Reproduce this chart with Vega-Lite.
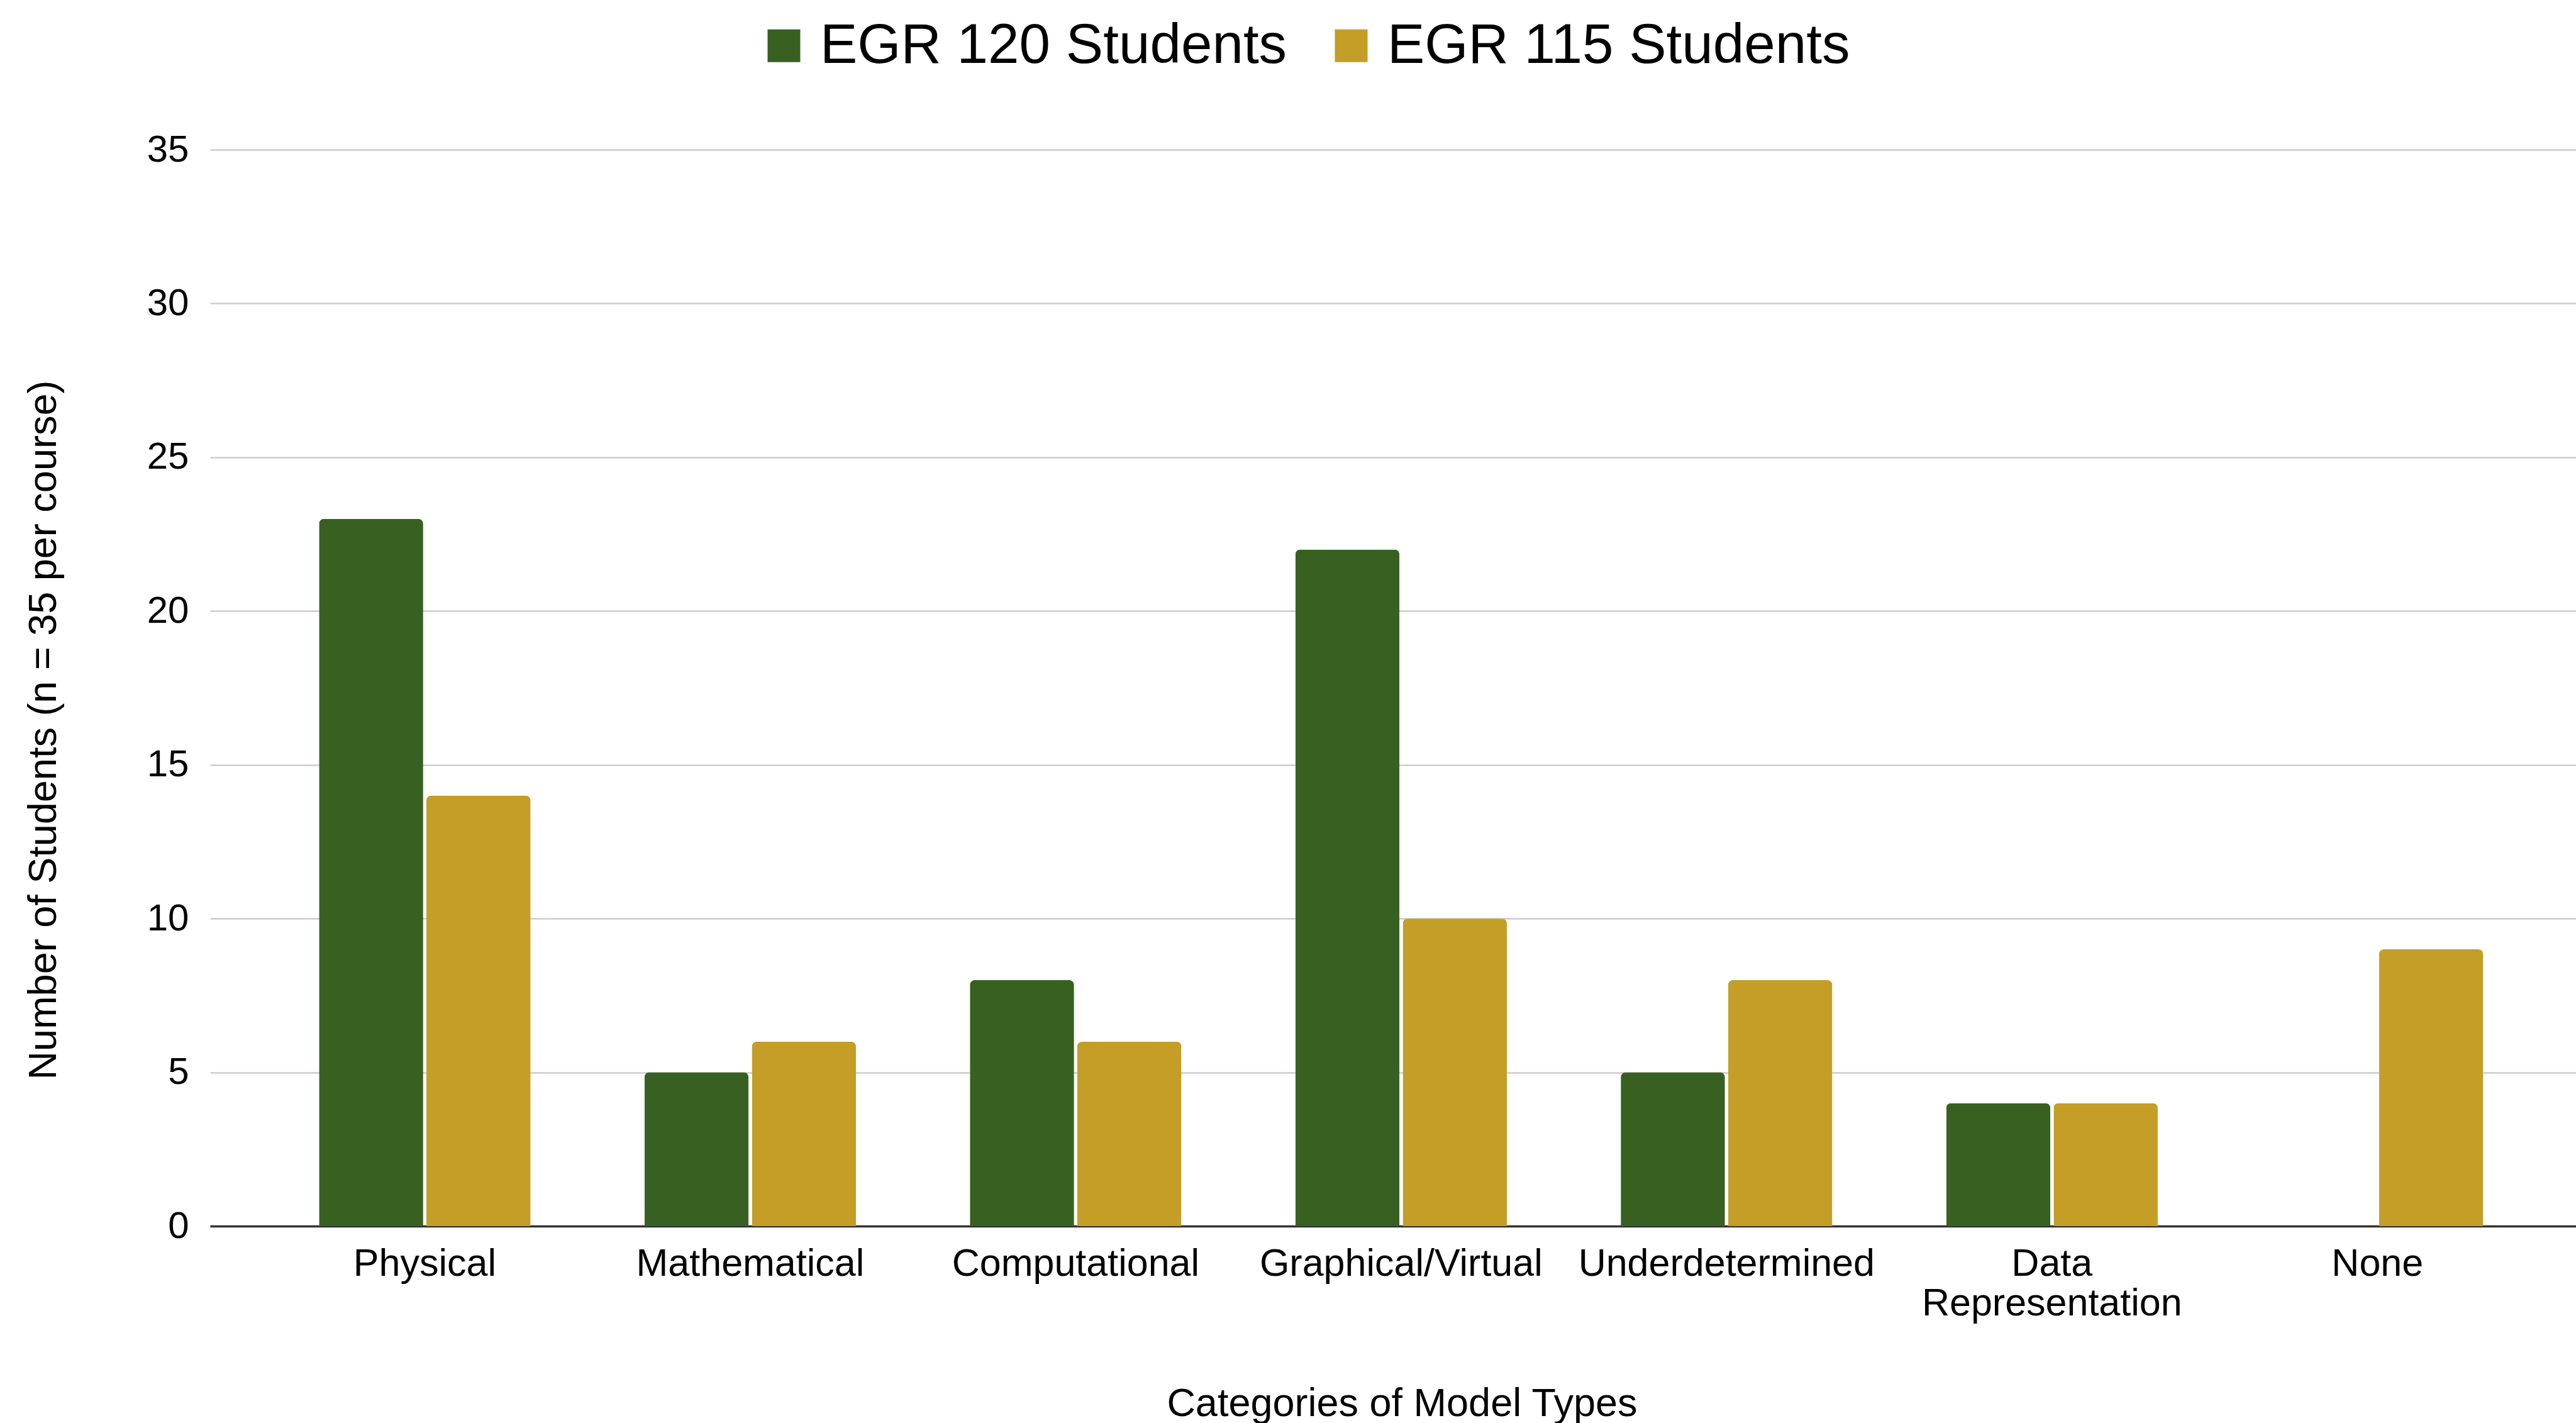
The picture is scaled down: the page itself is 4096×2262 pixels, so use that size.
{
  "$schema": "https://vega.github.io/schema/vega-lite/v6.json",
  "width": 3762,
  "height": 1711,
  "autosize": {"type": "none"},
  "padding": {"left": 334, "top": 238, "right": 0, "bottom": 313},
  "background": "white",
  "config": {"view": {"stroke": null}, "font": "Liberation Sans"},
  "data": {"values": [
    {"category": "Physical", "course": "EGR 120 Students", "students": 23},
    {"category": "Physical", "course": "EGR 115 Students", "students": 14},
    {"category": "Mathematical", "course": "EGR 120 Students", "students": 5},
    {"category": "Mathematical", "course": "EGR 115 Students", "students": 6},
    {"category": "Computational", "course": "EGR 120 Students", "students": 8},
    {"category": "Computational", "course": "EGR 115 Students", "students": 6},
    {"category": "Graphical/Virtual", "course": "EGR 120 Students", "students": 22},
    {"category": "Graphical/Virtual", "course": "EGR 115 Students", "students": 10},
    {"category": "Underdetermined", "course": "EGR 120 Students", "students": 5},
    {"category": "Underdetermined", "course": "EGR 115 Students", "students": 8},
    {"category": "Data Representation", "course": "EGR 120 Students", "students": 4},
    {"category": "Data Representation", "course": "EGR 115 Students", "students": 4},
    {"category": "None", "course": "EGR 120 Students", "students": 0},
    {"category": "None", "course": "EGR 115 Students", "students": 9}
  ]},
  "mark": {"type": "bar", "cornerRadiusTopLeft": 8, "cornerRadiusTopRight": 8},
  "encoding": {
    "x": {
      "field": "category", "type": "nominal",
      "sort": ["Physical", "Mathematical", "Computational", "Graphical/Virtual", "Underdetermined", "Data Representation", "None"],
      "scale": {"paddingInner": 0.35, "paddingOuter": 0.31, "align": 0.54},
      "axis": {
        "title": "Categories of Model Types",
        "labelAngle": 0, "labelFontSize": 61, "labelColor": "#000", "labelBaseline": "top",
        "labelLineHeight": 63, "labelPadding": 30, "labelLimit": 0,
        "labelExpr": "datum.label == 'Data Representation' ? ['Data', 'Representation'] : datum.label",
        "titleFontSize": 63, "titleFontWeight": "normal", "titleColor": "#000", "titlePadding": 98, "titleX": 1895,
        "ticks": false, "domainColor": "#333333", "domainWidth": 3.5
      }
    },
    "xOffset": {
      "field": "course", "type": "nominal",
      "sort": ["EGR 120 Students", "EGR 115 Students"],
      "scale": {"paddingInner": 0.03}
    },
    "y": {
      "field": "students", "type": "quantitative",
      "scale": {"domain": [0, 35]},
      "axis": {
        "values": [0, 5, 10, 15, 20, 25, 30, 35],
        "title": "Number of Students (n = 35 per course)",
        "grid": true, "gridColor": "#cccccc", "gridWidth": 2.5,
        "domain": false, "ticks": false,
        "labelFontSize": 60, "labelColor": "#000", "labelPadding": 34,
        "titleFontSize": 63, "titleFontWeight": "normal", "titleColor": "#000", "titlePadding": 132, "titleY": 922
      }
    },
    "color": {
      "field": "course", "type": "nominal",
      "sort": ["EGR 120 Students", "EGR 115 Students"],
      "scale": {"domain": ["EGR 120 Students", "EGR 115 Students"], "range": ["#386121", "#c49e26"]},
      "legend": {
        "title": null, "orient": "none", "legendX": 868, "legendY": -210,
        "direction": "horizontal", "padding": 0, "labelLimit": 0,
        "labelFontSize": 89, "labelColor": "#000", "labelOffset": 13,
        "symbolType": "square", "symbolSize": 2704, "symbolStrokeWidth": 0,
        "columnPadding": 57
      }
    }
  }
}
